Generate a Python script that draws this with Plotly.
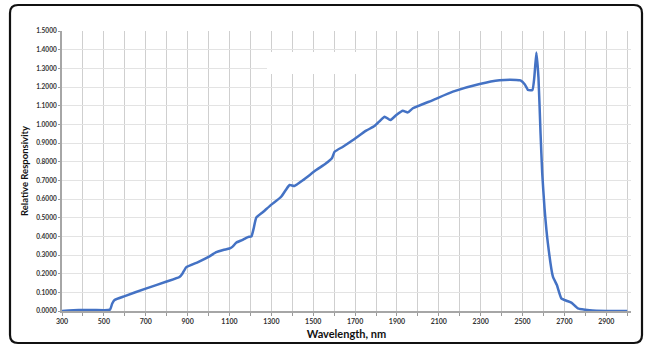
import plotly.graph_objects as go

wavelength_nm = [300, 380, 450, 520, 530, 540, 551, 600, 700, 800, 861, 875, 893, 950, 1000,
                 1037, 1070, 1100, 1115, 1132, 1160, 1188, 1205, 1215, 1228, 1260, 1300, 1347,
                 1370, 1387, 1410, 1450, 1514, 1560, 1590, 1602, 1642, 1690, 1753, 1793, 1820,
                 1841, 1868, 1897, 1928, 1952, 1976, 2072, 2167, 2295, 2390, 2470, 2490, 2510,
                 2526, 2547, 2556, 2566, 2576, 2586, 2594, 2605, 2621, 2645, 2664, 2685, 2710,
                 2733, 2764, 2820, 2900, 3000]
responsivity = [0.0, 0.005, 0.005, 0.005, 0.008, 0.04, 0.059, 0.08, 0.12, 0.158, 0.182, 0.2,
                0.234, 0.262, 0.29, 0.315, 0.327, 0.335, 0.345, 0.366, 0.38, 0.396, 0.40, 0.44,
                0.50, 0.53, 0.57, 0.612, 0.65, 0.675, 0.67, 0.70, 0.755, 0.79, 0.82, 0.853,
                0.88, 0.916, 0.966, 0.991, 1.02, 1.041, 1.023, 1.05, 1.073, 1.064, 1.086, 1.13,
                1.175, 1.216, 1.236, 1.238, 1.235, 1.215, 1.184, 1.184, 1.25, 1.385, 1.25, 0.95,
                0.737, 0.55, 0.362, 0.184, 0.139, 0.068, 0.055, 0.045, 0.014, 0.004, 0.0, 0.0]

x_ticks = list(range(300, 3000, 200))
y_ticks = [i / 10 for i in range(16)]
y_tick_labels = [f"{v:.4f}" for v in y_ticks]

fig = go.Figure()
fig.add_trace(go.Scatter(
    x=wavelength_nm, y=responsivity, mode="lines",
    line=dict(color="#4472C4", width=2.5, shape="spline", smoothing=0.4),
    showlegend=False, hoverinfo="skip",
))

W, H = 653, 356
L, R, T, B = 62, 631, 31, 311


def P(xp, yp):
    # pixel -> paper coords (paper is the plot area)
    a = (xp - L) / (R - L)
    b = (B - yp) / (B - T)
    return f"{a:.5f},{b:.5f}"


x0, x1, y0, y1, r = 10, 642, 5, 343, 8
path = (f"M {P(x0 + r, y0)} L {P(x1 - r, y0)} Q {P(x1, y0)} {P(x1, y0 + r)} "
        f"L {P(x1, y1 - r)} Q {P(x1, y1)} {P(x1 - r, y1)} L {P(x0 + r, y1)} "
        f"Q {P(x0, y1)} {P(x0, y1 - r)} L {P(x0, y0 + r)} Q {P(x0, y0)} {P(x0 + r, y0)} Z")

shapes = [
    dict(type="path", xref="paper", yref="paper", path=path,
         line=dict(color="#111111", width=2.2), layer="above"),
]
bx0, bx1, by0, by1 = 267, 376, 52, 74
shapes.append(dict(type="rect", xref="paper", yref="paper",
                   x0=(bx0 - L) / (R - L), x1=(bx1 - L) / (R - L),
                   y0=(B - by1) / (B - T), y1=(B - by0) / (B - T),
                   fillcolor="white", line=dict(width=0), layer="above"))

fig.update_layout(
    width=W, height=H,
    margin=dict(l=L, r=W - R, t=T, b=H - B),
    paper_bgcolor="white", plot_bgcolor="white",
    font=dict(family="Lato, sans-serif", color="#404040"),
    shapes=shapes,
    xaxis=dict(
        range=[300, 3018], tickmode="array", tickvals=x_ticks,
        ticktext=[str(v) for v in x_ticks],
        tickfont=dict(size=7, family="Lato, sans-serif", color="#333333", weight="bold"),
        showgrid=True, gridcolor="#cfcfcf", gridwidth=1,
        minor=dict(tickmode="linear", tick0=300, dtick=100, showgrid=True, gridcolor="#cfcfcf",
                   gridwidth=1, ticks="outside", ticklen=3, tickcolor="#999999"),
        ticks="outside", ticklen=3, tickcolor="#999999",
        showline=True, linecolor="#a6a6a6", linewidth=2,
        zeroline=False,
        title=dict(text="<b>Wavelength, nm</b>", font=dict(size=11, color="#111111"), standoff=6),
    ),
    yaxis=dict(
        range=[0, 1.5], tickmode="array", tickvals=y_ticks, ticktext=y_tick_labels,
        tickfont=dict(size=6.5, family="Lato, sans-serif", color="#333333", weight="bold"),
        showgrid=True, gridcolor="#e3e3e3", gridwidth=1,
        ticks="outside", ticklen=2, tickcolor="#999999",
        showline=True, linecolor="#a6a6a6", linewidth=2,
        zeroline=False,
        title=dict(text="<b>Relative Responsivity</b>", font=dict(size=9.5, color="#111111"), standoff=6),
    ),
)

fig.write_html(
    "out.html",
    config={"displayModeBar": False, "staticPlot": True},
    post_script="document.body.style.margin='0';document.body.style.overflow='hidden';",
)
